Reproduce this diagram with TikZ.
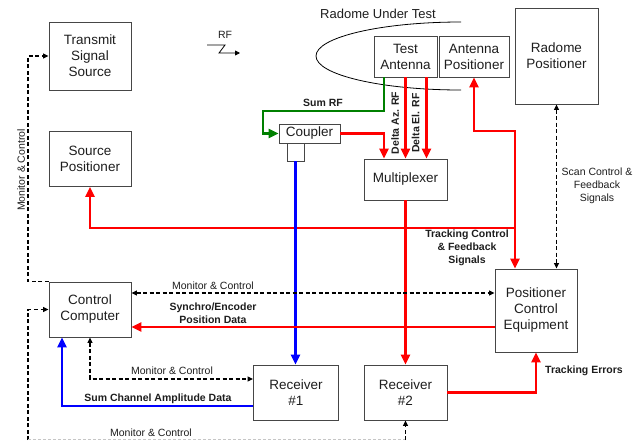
\documentclass[tikz,border=0pt]{standalone}
\usepackage{fontspec}
\setmainfont{Liberation Sans}
\usetikzlibrary{arrows.meta,calc}
\definecolor{boxline}{RGB}{70,70,70}
\definecolor{figtext}{RGB}{30,30,30}
\definecolor{sigred}{RGB}{255,0,0}
\definecolor{sigblue}{RGB}{0,0,255}
\definecolor{siggreen}{RGB}{0,128,0}
\tikzset{
  block/.style={draw=boxline, line width=0.9pt, fill=white, align=center, inner sep=0pt, font=\fontsize{13.5}{16}\selectfont, text=figtext},
  redline/.style={draw=sigred, line width=2.6pt, >={Triangle[length=10pt,width=9pt]}},
  blueline/.style={draw=sigblue, line width=2.6pt, >={Triangle[length=10pt,width=9pt]}},
  greenline/.style={draw=siggreen, line width=2.6pt, >={Triangle[length=10pt,width=9pt]}},
  dashline/.style={draw=black, line width=1.2pt, dash pattern=on 4pt off 2.5pt, >={Triangle[length=5.5pt,width=5pt]}},
  lbl/.style={font=\fontsize{10.5}{13}\selectfont, text=figtext, align=center, inner sep=0pt},
  sigtext/.style={font=\fontsize{10.5}{13}\selectfont\bfseries, text=figtext, align=center, inner sep=0pt}
}
\begin{document}
\begin{tikzpicture}[x=1pt,y=-1pt]
  \useasboundingbox[fill=white] (0,0) rectangle (641,440);
  % radome under test
  \draw[black, line width=0.8pt] (461,22) arc[start angle=-90, end angle=-270, x radius=145, y radius=34];
  \node[lbl, font=\fontsize{13}{15}\selectfont] (radlbl) at (378,14) {Radome Under Test};
  % RF symbol
  \node[lbl] (rflbl) at (225,35) {RF};
  \draw[black, line width=0.8pt, -{Triangle[length=5pt,width=5pt]}] (207,45) -- (225,45) -- (219,53) -- (240,53);
  % blocks
  \node[block, minimum width=82pt, minimum height=68pt] (tss) at (90,56) {Transmit\\Signal\\Source};
  \node[block, minimum width=82pt, minimum height=55pt] (srcpos) at (90,159) {Source\\Positioner};
  \node[block, minimum width=82pt, minimum height=55pt] (ctrl) at (90,309.5) {Control\\Computer};
  \node[block, minimum width=85pt, minimum height=55pt] (rxa) at (296,392.5) {Receiver\\\#1};
  \node[block, minimum width=83pt, minimum height=55pt] (rxb) at (405.5,392.5) {Receiver\\\#2};
  \node[block, minimum width=82pt, minimum height=83pt] (pce) at (536,310.5) {Positioner\\Control\\Equipment};
  \node[block, minimum width=83pt, minimum height=41pt] (mux) at (405.5,179.5) {Multiplexer};
  \node[block, minimum width=63pt, minimum height=41pt] (ant) at (405.5,56.5) {Test\\Antenna};
  \node[block, minimum width=70pt, minimum height=41pt] (antpos) at (474,56.5) {Antenna\\Positioner};
  \node[block, minimum width=83pt, minimum height=96pt] (radpos) at (556.5,56) {Radome\\Positioner};
  \node[block, minimum width=61pt, minimum height=19pt] (coupler) at (309.5,133.5) {Coupler};
  \node[block, minimum width=17pt, minimum height=18pt] (port) at (295.5,152) {};
  % rf paths
  \draw[greenline,->] ([xshift=-21.5pt]ant.south) |- (263,111) |- (coupler.west);
  \node[sigtext] (sumrf) at (323,103) {Sum RF};
  \draw[redline,->] (coupler.east) -| ([xshift=-21.5pt]mux.north);
  \draw[redline,->] (ant.south) -- (mux.north);
  \draw[redline,->] ([xshift=21pt]ant.south) -- ([xshift=21pt]mux.north);
  \node[sigtext, rotate=90] (dazlbl) at (395,123) {Delta Az. RF};
  \node[sigtext, rotate=90] (dellbl) at (415.5,123) {Delta El. RF};
  \draw[redline,->] (mux.south) -- (rxb.north);
  % tracking control
  \coordinate (busj) at (515,228);
  \draw[redline,<->] (antpos.south) |- (515,131) -- ([xshift=-21pt]pce.north);
  \draw[redline,->] (busj) -| (srcpos.south);
  \node[sigtext] (trklbl) at (467,248) {Tracking Control\\\& Feedback\\Signals};
  \draw[blueline,->] (port.south) -- (port.south |- rxa.north);
  % scan control
  \draw[dashline,<->] (radpos.south) -- (radpos.south |- pce.north);
  \node[lbl] (scanlbl) at (597,186) {Scan Control \&\\Feedback\\Signals};
  % computer links
  \draw[dashline,<->] (ctrl.east |- 0,293) -- (pce.west |- 0,293);
  \node[lbl] (mc1) at (213,286) {Monitor \& Control};
  \draw[redline,->] (pce.west |- 0,327) -- (ctrl.east |- 0,327);
  \node[sigtext] (synlbl) at (213,313) {Synchro/Encoder\\Position Data};
  \draw[dashline,<->] (ctrl.south) |- (rxa.west |- 0,379);
  \node[lbl] (mc2) at (172,371) {Monitor \& Control};
  \draw[blueline,->] (rxa.west |- 0,406) -| ([xshift=-28pt]ctrl.south);
  \node[sigtext] (sumlbl) at (158,399) {Sum Channel Amplitude Data};
  \draw[redline,->] (rxb.east) -| (pce.south);
  \node[sigtext] (errlbl) at (584,371) {Tracking Errors};
  % monitor and control, left side
  \draw[dashline,->] (ctrl.north west) -| (28,56) -- (tss.west);
  \node[lbl, rotate=90] (mc3) at (21,170) {Monitor \& Control};
  \draw[dashline,->] (28,440) |- (ctrl.west);
  \draw[gray!45, line width=0.8pt, dash pattern=on 3pt off 2pt] (28,439.5) -- (rxb.south |- 0,439.5);
  \draw[dashline,->] (rxb.south |- 0,440) -- (rxb.south);
  \node[lbl] (mc4) at (151,433) {Monitor \& Control};
\end{tikzpicture}
\end{document}
